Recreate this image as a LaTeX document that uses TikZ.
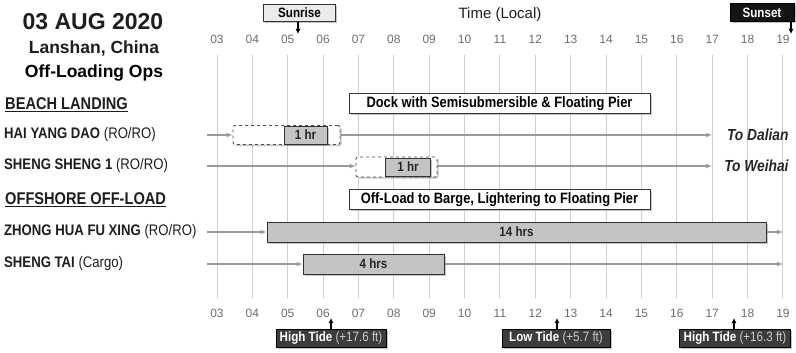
\documentclass[tikz,border=0pt]{standalone}
\usepackage{fontspec}
\setmainfont{Liberation Sans}
\newfontfamily\narrowfont{Liberation Sans}[FakeStretch=0.86]
\usetikzlibrary{shadows,arrows.meta}
\definecolor{gridc}{HTML}{CFCFCF}
\definecolor{arrc}{HTML}{9A9A9A}
\definecolor{barc}{HTML}{C4C4C4}
\definecolor{hourc}{HTML}{6E6E6E}
\definecolor{tidec}{HTML}{3C3C3C}
\definecolor{txtc}{HTML}{1E1E1E}
\newcommand{\fs}[1]{\fontsize{#1}{#1}\selectfont}
\tikzset{
  shad/.style={drop shadow={opacity=0.45,shadow xshift=1.5pt,shadow yshift=-1.5pt}},
  hourlbl/.style={text=hourc,font=\fs{12}},
  rowlbl/.style={anchor=west,text=txtc,font=\narrowfont\fs{15.3},inner sep=0pt},
  seclbl/.style={anchor=west,text=txtc,font=\narrowfont\fs{17}\bfseries,inner sep=0pt},
  flow/.style={draw=arrc,line width=1.3pt,-{Latex[length=6pt,width=5pt]}},
  dashbox/.style={draw=black!70,dashed,line width=0.9pt,fill=white,rounded corners=2pt,shad,inner sep=0pt},
  barbox/.style={draw=black!80,line width=1pt,fill=barc,inner sep=0pt,shad,font=\narrowfont\fs{13.5}\bfseries,text=black!85},
  notebox/.style={draw=black!80,line width=0.9pt,fill=white,inner sep=0pt,shad,font=\narrowfont\fs{15}\bfseries,text=black},
  tidebox/.style={draw=black,line width=0.6pt,fill=tidec,inner sep=0pt,shad,text=white,font=\narrowfont\fs{13.5}},
  ptr/.style={line width=1.2pt,-{Latex[length=5pt,width=5pt]}},
}
\begin{document}
\begin{tikzpicture}[x=1pt,y=-1pt]
\useasboundingbox (0,0) rectangle (796,353);
\fill[white] (0,0) rectangle (796,353);
% grid and hour labels
\foreach \h [evaluate=\h as \xx using {217+(\h-3)*35.37}] in {3,...,19}{
  \draw[gridc,line width=1pt] (\xx,55) -- (\xx,298);
  \node[hourlbl] at (\xx,39) {\ifnum\h<10 0\fi\h};
  \node[hourlbl] at (\xx,313) {\ifnum\h<10 0\fi\h};
}
% title
\node[text=txtc,font=\fs{23}\bfseries] (title) at (93,22) {03 AUG 2020};
\node[text=txtc,font=\fs{17.5}\bfseries] (place) at (94,49) {Lanshan, China};
\node[text=black,font=\fs{17.5}\bfseries] (ops) at (94,73) {Off-Loading Ops};
\node[text=txtc,font=\fs{15}] (time) at (500,15) {Time (Local)};
% sunrise / sunset
\node[draw=black!80,line width=0.9pt,fill=black!8,shad,minimum width=72pt,minimum height=17pt,inner sep=0pt,font=\narrowfont\fs{13.5}\bfseries] (sunrise) at (299.5,13) {Sunrise};
\coordinate (sunriseT) at (298,34);
\draw[ptr] (sunrise.south -| sunriseT) -- (sunriseT);
\node[draw=black,fill=black!92,shad,minimum width=64pt,minimum height=18pt,inner sep=0pt,text=white,font=\narrowfont\fs{13.5}\bfseries] (sunset) at (762,12.5) {Sunset};
\coordinate (sunsetT) at (791,34);
\draw[ptr] (sunset.south -| sunsetT) -- (sunsetT);
% section labels
\node[seclbl] (beach) at (5,105) {\underline{BEACH LANDING}};
\node[seclbl] (offshore) at (5,200) {\underline{OFFSHORE OFF-LOAD}};
\node[rowlbl] (hyd) at (4,135) {\textbf{HAI YANG DAO} (RO/RO)};
\node[rowlbl] (ss1) at (4,166) {\textbf{SHENG SHENG 1} (RO/RO)};
\node[rowlbl] (zh) at (4,232) {\textbf{ZHONG HUA FU XING} (RO/RO)};
\node[rowlbl] (st) at (4,264) {\textbf{SHENG TAI} (Cargo)};
% note boxes
\node[notebox,minimum width=301pt,minimum height=20pt] (dock) at (499.5,103.5) {Dock with Semisubmersible \& Floating Pier};
\node[notebox,minimum width=301pt,minimum height=20pt] (lighter) at (499.5,199.5) {Off-Load to Barge, Lightering to Floating Pier};
% HAI YANG DAO
\coordinate (hydS) at (207,135);
\node[dashbox,minimum width=107pt,minimum height=19pt] (hydD) at (286.5,135) {};
\node[barbox,minimum width=43pt,minimum height=18pt] (hydB) at (305.5,135) {1 hr};
\coordinate (hydE) at (712,135);
\draw[flow] (hydS) -- (hydD.west);
\draw[flow] (hydD.east) -- (hydE);
\node[anchor=east,text=black!85,font=\narrowfont\fs{16}\bfseries\itshape] (dalian) at (792,135) {To Dalian};
% SHENG SHENG 1
\coordinate (ss1S) at (207,166);
\node[dashbox,minimum width=81pt,minimum height=20pt] (ss1D) at (396.5,167) {};
\node[barbox,minimum width=45pt,minimum height=18pt] (ss1B) at (408,167) {1 hr};
\coordinate (ss1E) at (712,166);
\draw[flow] (ss1S) -- (ss1D.west |- ss1S);
\draw[flow] (ss1D.east |- ss1S) -- (ss1E);
\node[anchor=east,text=black!85,font=\narrowfont\fs{16}\bfseries\itshape] (weihai) at (792,166) {To Weihai};
% ZHONG HUA FU XING
\coordinate (zhS) at (207,232);
\node[barbox,minimum width=499pt,minimum height=20pt] (zhB) at (516.5,232) {14 hrs};
\coordinate (zhE) at (783,232);
\draw[flow] (zhS) -- (zhB.west);
\draw[flow] (zhB.east) -- (zhE);
% SHENG TAI
\coordinate (stS) at (207,264);
\node[barbox,minimum width=141pt,minimum height=20pt] (stB) at (373.5,264) {4 hrs};
\coordinate (stE) at (783,264);
\draw[flow] (stS) -- (stB.west);
\draw[flow] (stB.east) -- (stE);
% tides
\node[tidebox,minimum width=110pt,minimum height=18pt] (ht1) at (331,338.5) {\textbf{High Tide} {\color{black!20}(+17.6 ft)}};
\coordinate (ht1T) at (331,318);
\draw[ptr] (ht1.north -| ht1T) -- (ht1T);
\node[tidebox,minimum width=108pt,minimum height=18pt] (lt) at (556,338.5) {\textbf{Low Tide} {\color{black!20}(+5.7 ft)}};
\coordinate (ltT) at (557,318);
\draw[ptr] (lt.north -| ltT) -- (ltT);
\node[tidebox,minimum width=111pt,minimum height=18pt] (ht2) at (735,338.5) {\textbf{High Tide} {\color{black!20}(+16.3 ft)}};
\coordinate (ht2T) at (734,318);
\draw[ptr] (ht2.north -| ht2T) -- (ht2T);
\end{tikzpicture}
\end{document}
